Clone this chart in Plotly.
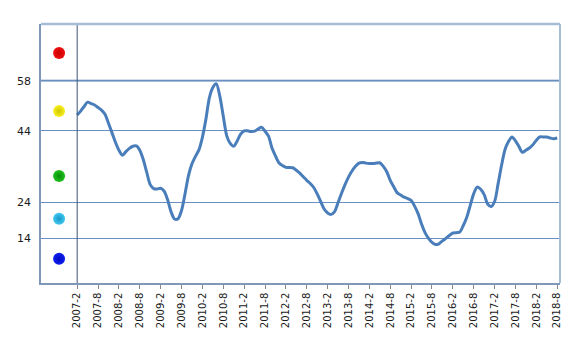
import plotly.graph_objects as go

# Monthly categories 2007-2 .. 2018-8
months = []
for y in range(2007, 2019):
    for m in range(1, 13):
        if (y == 2007 and m < 2) or (y == 2018 and m > 8):
            continue
        months.append(f"{y}-{m}")

values = [
    48.4, 49.5, 50.8, 52.0, 51.6, 51.2, 50.5, 49.8, 48.6, 46.1,
    43.5, 40.8, 38.6, 37.2, 38.2, 39.1, 39.7, 39.8, 38.6, 36.0,
    32.4, 29.0, 27.9, 27.8, 28.0, 27.2, 24.8, 21.4, 19.4, 19.5,
    21.8, 26.4, 31.5, 34.8, 36.9, 38.7, 42.2, 47.2, 53.2, 56.1,
    57.1, 53.7, 48.1, 42.6, 40.5, 39.7, 41.2, 43.1, 44.0, 44.0,
    43.8, 43.9, 44.5, 45.0, 43.9, 42.5, 39.2, 37.0, 35.1, 34.3,
    33.8, 33.8, 33.7, 33.0, 32.2, 31.2, 30.2, 29.3, 28.2, 26.4,
    24.3, 22.2, 21.1, 20.7, 21.5, 24.0, 26.6, 29.0, 31.1, 32.8,
    34.1, 35.0, 35.2, 35.0, 34.9, 34.9, 35.0, 35.1, 34.1, 32.6,
    30.2, 28.4, 26.7, 26.1, 25.5, 25.1, 24.6, 23.0, 20.9, 18.0,
    15.6, 14.0, 12.9, 12.3, 12.5, 13.3, 14.0, 14.8, 15.5, 15.6,
    15.8, 17.6, 19.9, 23.2, 26.5, 28.3, 27.7, 26.2, 23.6, 22.9,
    24.3, 29.2, 34.4, 38.8, 41.0, 42.3, 41.2, 39.6, 38.0, 38.6,
    39.2, 40.1, 41.4, 42.3, 42.3, 42.3, 42.0, 41.8, 42.0,
]

y_ticks = [14, 24, 44, 58]
tick_labels = [m for m in months if m.endswith("-2") or m.endswith("-8")]

dot_values = [65.7, 49.5, 31.4, 19.5, 8.3]
dot_edges = ["#C80000", "#D0C800", "#089008", "#1898C8", "#0008C0"]
dot_centers = ["#F01010", "#F8F020", "#20C020", "#40C8F0", "#1020F0"]

x_idx = list(range(len(months)))
tickvals = [months.index(t) for t in tick_labels]

fig = go.Figure()
fig.add_trace(go.Scatter(
    x=x_idx, y=values, mode="lines",
    line=dict(color="#4A7EBB", width=3, shape="spline", smoothing=0.8),
    hoverinfo="skip", showlegend=False,
))
fig.add_trace(go.Scatter(
    x=[-5.2] * len(dot_values), y=dot_values, mode="markers",
    marker=dict(size=12, color=dot_centers,
                gradient=dict(type="radial", color=dot_edges),
                line=dict(width=0)),
    hoverinfo="skip", showlegend=False,
))

# thicker light gridline at 58
fig.add_shape(type="line", xref="paper", yref="y", x0=0, x1=1, y0=58, y1=58,
              line=dict(color="#A6BDD8", width=2.5), layer="below")
# category axis line
fig.add_shape(type="line", xref="x", yref="paper", x0=0, x1=0, y0=0, y1=1,
              line=dict(color="#3B5477", width=1))

fig.update_layout(
    width=585, height=347,
    margin=dict(l=41, r=25, t=24, b=64),
    paper_bgcolor="white", plot_bgcolor="white",
    font=dict(family="DejaVu Sans", color="#222222"),
)
fig.update_xaxes(
    range=[-10.4, 138.8], tickmode="array", tickvals=tickvals, ticktext=tick_labels,
    tickangle=-90, tickfont=dict(size=10, color="#1A1A1A"),
    ticks="outside", ticklen=4, tickcolor="#888888",
    showgrid=False, zeroline=False,
    showline=True, linecolor="#7F98BA", linewidth=1.5, mirror=False,
)
fig.update_yaxes(
    range=[1.56, 73.8], tickmode="array", tickvals=y_ticks,
    tickfont=dict(size=11, color="#1A1A1A"),
    showgrid=True, gridcolor="#6A90C2", gridwidth=1, zeroline=False,
    showline=True, linecolor="#7F98BA", linewidth=1.5, mirror=False,
    ticks="", ticklabelstandoff=6,
)
# top and right frame
fig.add_shape(type="line", xref="paper", yref="paper", x0=0, x1=1, y0=1, y1=1,
              line=dict(color="#A6BDD8", width=2.5))
fig.add_shape(type="line", xref="paper", yref="paper", x0=1, x1=1, y0=0, y1=1,
              line=dict(color="#A6BDD8", width=2))

fig.write_html("out.html")
